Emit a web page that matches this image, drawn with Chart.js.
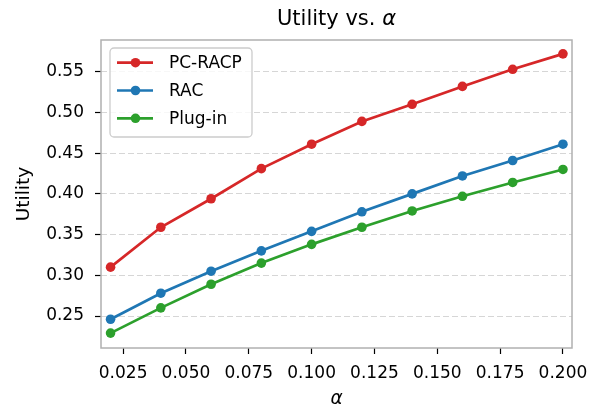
<!DOCTYPE html>
<html><head><meta charset="utf-8">
<script src="https://cdn.jsdelivr.net/npm/chart.js@4"></script>
<style>html,body{margin:0;padding:0;background:#fff}canvas{display:block}</style>
</head><body>
<canvas id="c" width="599" height="411"></canvas>
<script>
// ---- data ----
const alphas = [0.02, 0.04, 0.06, 0.08, 0.10, 0.12, 0.14, 0.16, 0.18, 0.20];
const pcRacp = [0.310, 0.359, 0.394, 0.431, 0.461, 0.489, 0.510, 0.532, 0.553, 0.572];
const rac    = [0.246, 0.278, 0.305, 0.330, 0.354, 0.378, 0.400, 0.422, 0.441, 0.461];
const plugIn = [0.229, 0.260, 0.289, 0.315, 0.338, 0.359, 0.379, 0.397, 0.414, 0.430];
const seriesNames = ['PC-RACP', 'RAC', 'Plug-in'];
const xTicks = [0.025, 0.050, 0.075, 0.100, 0.125, 0.150, 0.175, 0.200];
const yTicks = [0.25, 0.30, 0.35, 0.40, 0.45, 0.50, 0.55];
const titleMain = 'Utility vs. ';
const titleSym = 'α';
const xLabel = 'α';
const yLabel = 'Utility';

const FONT = 'DejaVu Sans';
const colors = ['#d62728', '#1f77b4', '#2ca02c'];
const series = [pcRacp, rac, plugIn];

const datasets = series.map((vals, i) => ({
  label: seriesNames[i],
  data: alphas.map((a, j) => ({x: a, y: vals[j]})),
  borderColor: colors[i],
  backgroundColor: colors[i],
  borderWidth: 2.7,
  pointRadius: 4.8,
  pointHoverRadius: 4.8,
  pointBorderWidth: 0,
  tension: 0,
  fill: false
}));

const titlePlugin = {
  id: 'mplTitle',
  afterDraw(chart) {
    const ctx = chart.ctx, ca = chart.chartArea;
    ctx.save();
    ctx.fillStyle = '#000';
    ctx.textBaseline = 'alphabetic';
    ctx.font = `21px "${FONT}"`;
    const w1 = ctx.measureText(titleMain).width;
    ctx.font = `italic 21px "${FONT}"`;
    const w2 = ctx.measureText(titleSym).width;
    const cx = (ca.left + ca.right) / 2;
    let x = cx - (w1 + w2) / 2;
    ctx.font = `21px "${FONT}"`;
    ctx.textAlign = 'left';
    ctx.fillText(titleMain, x, 25);
    ctx.font = `italic 21px "${FONT}"`;
    ctx.fillText(titleSym, x + w1, 25);
    ctx.restore();
  }
};

const framePlugin = {
  id: 'frame',
  afterDatasetsDraw(chart) {
    const ctx = chart.ctx, ca = chart.chartArea;
    ctx.save();
    ctx.strokeStyle = '#b0b0b0';
    ctx.lineWidth = 1.5;
    ctx.strokeRect(ca.left, ca.top, ca.right - ca.left, ca.bottom - ca.top);
    ctx.restore();
  }
};

const legendPlugin = {
  id: 'mplLegend',
  afterDraw(chart) {
    const ctx = chart.ctx;
    const bx = 110, by = 48, bw = 142, bh = 89, r = 4;
    ctx.save();
    ctx.beginPath();
    ctx.moveTo(bx + r, by);
    ctx.arcTo(bx + bw, by, bx + bw, by + bh, r);
    ctx.arcTo(bx + bw, by + bh, bx, by + bh, r);
    ctx.arcTo(bx, by + bh, bx, by, r);
    ctx.arcTo(bx, by, bx + bw, by, r);
    ctx.closePath();
    ctx.fillStyle = 'rgba(255,255,255,0.8)';
    ctx.fill();
    ctx.strokeStyle = '#cccccc';
    ctx.lineWidth = 1.3;
    ctx.stroke();
    const ys = [62.7, 90.5, 118.3];
    chart.data.datasets.forEach((ds, i) => {
      const y = ys[i];
      ctx.strokeStyle = ds.borderColor;
      ctx.lineWidth = 2.7;
      ctx.beginPath();
      ctx.moveTo(117, y);
      ctx.lineTo(153, y);
      ctx.stroke();
      ctx.fillStyle = ds.backgroundColor;
      ctx.beginPath();
      ctx.arc(135.5, y, 4.8, 0, Math.PI * 2);
      ctx.fill();
      ctx.fillStyle = '#000';
      ctx.font = `17px "${FONT}"`;
      ctx.textBaseline = 'middle';
      ctx.textAlign = 'left';
      ctx.fillText(ds.label, 169, y + 1);
    });
    ctx.restore();
  }
};

new Chart(document.getElementById('c'), {
  type: 'line',
  data: {datasets},
  plugins: [framePlugin, legendPlugin, titlePlugin],
  options: {
    responsive: false,
    animation: false,
    devicePixelRatio: 1,
    layout: {padding: {left: 0, right: 27, top: 40, bottom: 0}},
    plugins: {legend: {display: false}, title: {display: false}, tooltip: {enabled: false}},
    scales: {
      x: {
        type: 'linear',
        min: 0.0162, max: 0.2036,
        afterBuildTicks(s) { s.ticks = xTicks.map(v => ({value: v})); },
        afterFit(s) { s.height = 63; },
        grid: {display: true, drawOnChartArea: false, drawTicks: true, tickLength: 6, tickColor: '#000', tickWidth: 1.2},
        border: {display: false},
        ticks: {color: '#000', font: {family: FONT, size: 17}, padding: 9, maxRotation: 0, autoSkip: false,
                callback: v => Number(v).toFixed(3)},
        title: {display: true, text: xLabel, color: '#000', font: {family: FONT, size: 18.5, style: 'italic'}, padding: {top: 0, bottom: 1}}
      },
      y: {
        type: 'linear',
        min: 0.2107, max: 0.589,
        afterBuildTicks(s) { s.ticks = yTicks.map(v => ({value: v})); },
        afterFit(s) { s.width = 101; },
        grid: {display: true, drawOnChartArea: true, color: '#d6d6d6', lineWidth: 1, drawTicks: true, tickLength: 6, tickColor: '#000', tickWidth: 1.2, tickBorderDash: []},
        border: {display: false, dash: [6, 3]},
        ticks: {color: '#000', font: {family: FONT, size: 17}, padding: 11, autoSkip: false,
                callback: v => Number(v).toFixed(2)},
        title: {display: true, text: yLabel, color: '#000', font: {family: FONT, size: 18.5}, padding: {top: 13, bottom: 0}}
      }
    }
  }
});
</script>
</body></html>
